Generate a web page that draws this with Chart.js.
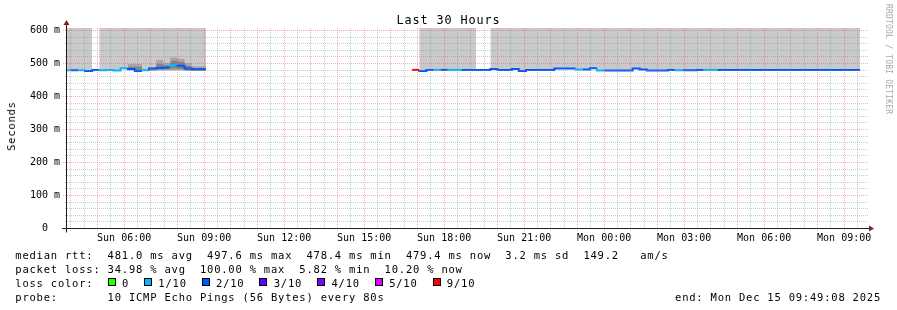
<!DOCTYPE html>
<html><head><meta charset="utf-8">
<script src="https://cdn.jsdelivr.net/npm/chart.js@4.4.1/dist/chart.umd.min.js"></script>
<style>
html,body{margin:0;padding:0;background:#fff;}
#wrap{position:relative;width:897px;height:310px;overflow:hidden;background:#fff;font-family:"DejaVu Sans Mono",monospace;color:#000;}
#c{position:absolute;left:0;top:0;}
.t{position:absolute;white-space:pre;}
.lg{font-size:10.5px;line-height:14px;letter-spacing:0.78px;}
#title{left:0;width:897px;text-align:center;top:11.9px;font-size:11.8px;line-height:16px;letter-spacing:0.88px;}
#ylab{left:11px;top:126px;transform:translate(-50%,-50%) rotate(-90deg);}
#credit{left:882.5px;top:4px;font-size:8px;line-height:10px;letter-spacing:0.2px;writing-mode:vertical-rl;color:#a8a8a8;}
#l1{left:15.3px;top:247.6px;}
#l2{left:15.3px;top:261.6px;}
#l3{left:15.3px;top:275.6px;}
#l4{left:15.3px;top:289.6px;}
#end{right:16px;top:289.6px;}
.sq{display:inline-block;width:8px;height:8px;box-sizing:border-box;border:1px solid #000;vertical-align:0.75px;}
.ll{margin-left:6.3px;margin-right:15px;}
</style></head>
<body>
<div id="wrap">
<canvas id="c" width="897" height="310"></canvas>
<div class="t" id="title">Last 30 Hours</div>
<div class="t lg" id="ylab">Seconds</div>
<div class="t" id="credit">RRDTOOL / TOBI OETIKER</div>
<div class="t lg" id="l1">median rtt:  481.0 ms avg  497.6 ms max  478.4 ms min  479.4 ms now  3.2 ms sd  149.2   am/s</div>
<div class="t lg" id="l2">packet loss: 34.98 % avg  100.00 % max  5.82 % min  10.20 % now</div>
<div class="t lg" id="l3">loss color:  <span id="lossItems"></span></div>
<div class="t lg" id="l4">probe:       10 ICMP Echo Pings (56 Bytes) every 80s</div>
<div class="t lg" id="end">end: Mon Dec 15 09:49:08 2025</div>
</div>
<script>
// ---------------- data ----------------
// time axis: hours since Sun 00:00; graph covers the 30 hours ending Mon 09:49:08
const endHour = 24 + 9 + 49/60 + 8/3600;
const spanHours = 30;
const xTickHours  = [6, 9, 12, 15, 18, 21, 24, 27, 30, 33];
const xTickLabels = ['Sun 06:00','Sun 09:00','Sun 12:00','Sun 15:00','Sun 18:00','Sun 21:00','Mon 00:00','Mon 03:00','Mon 06:00','Mon 09:00'];
const yTickValues = [0, 100, 200, 300, 400, 500, 600];
const yTickLabels = ['0', '100 m', '200 m', '300 m', '400 m', '500 m', '600 m'];
const yMaxMs = 606.06;

// consolidated 16-minute buckets, first one starts Sun 03:44
const firstBucketHour = 3 + 44/60;
const bucketHours = 16/60;

// median rtt per bucket (ms); null = 100% loss
const medianMs = [
  478,478,478,478,476,479,478,479,477,484,482,476,478,483,485,486,494,492,483,481,
  null,null,null,null,null,null,null,null,null,null,null,null,null,null,null,null,null,null,null,null,null,null,null,null,null,null,null,null,null,
  479,479,476,479,479,479,479,479,479,479,479,479,482,479,479,482,476,479,479,479,479,
  483,483,483,480,480,484,477,477,477,477,477,483,480,477,477,477,479,478,478,478,479,479,
  479,479,479,479,479,479,479,479,479,479,479,479,479,479,479,479,479,479,479,479
];
// lost pings out of 10 per bucket
const lossTenths = [
  1,2,1,2,2,1,1,1,1,2,2,1,2,2,2,1,2,2,2,2,
  10,10,10,10,10,10,10,10,10,10,10,10,10,10,10,10,10,10,10,10,10,10,10,10,10,10,10,10,10,
  9,2,2,1,2,1,1,2,2,2,2,2,2,2,2,2,2,2,2,2,2,
  2,2,1,2,2,1,2,2,2,2,2,2,2,2,2,2,1,2,2,2,1,1,
  2,2,2,2,2,2,2,2,2,2,2,2,2,2,2,2,2,2,2,2
];
// 1 = slowest ping of the bucket is above the top of the graph
const upperOffScale = [
  1,1,1,1,0,1,1,1,1,1,1,1,1,1,1,1,1,1,1,1,
  0,0,0,0,0,0,0,0,0,0,0,0,0,0,0,0,0,0,0,0,0,0,0,0,0,0,0,0,0,
  0,1,1,1,1,1,1,1,1,0,0,1,1,1,1,1,1,1,1,1,1,
  1,1,1,1,1,1,1,1,1,1,1,1,1,1,1,1,1,1,1,1,1,1,
  1,1,1,1,1,1,1,1,1,1,1,1,1,1,1,1,1,1,1,1
];
// smoke (spread of the individual pings), first buckets only
const smokeOuterHi = [null,null,null,null,null,null,null,null,null,501,497,null,482,487,509,500,517,512,500,490];
const smokeOuterLo = [null,null,null,null,null,null,null,null,null,476,477,null,476,476,477,477,477,477,476,476];
const smokeInnerHi = [null,null,null,null,null,null,null,null,null,492,489,null,null,485,497,493,507,503,491,485];
const smokeInnerLo = [null,null,null,null,null,null,null,null,null,479,479,null,null,479,480,481,483,482,479,478];

// loss colour legend
const lossLegendTenths = [0, 1, 2, 3, 4, 5, 9];
const lossLegendLabels = ['0', '1/10', '2/10', '3/10', '4/10', '5/10', '9/10'];
const lossLegendColors = ['#26ff00', '#00b8ff', '#0059ff', '#5e00ff', '#7e00ff', '#dd00ff', '#ff0000'];

// ---------------- helpers ----------------
const FONT = 'DejaVu Sans Mono';
const xMax = endHour, xMin = endHour - spanHours;
const bucketStart = k => firstBucketHour + k * bucketHours;
function lossColor(t){
  let c = lossLegendColors[0];
  for (let i = 0; i < lossLegendTenths.length; i++) if (t >= lossLegendTenths[i]) c = lossLegendColors[i];
  return c;
}
function stepPoints(vals){
  const pts = [];
  for (let k = 0; k < vals.length; k++){
    const v = vals[k];
    if (v == null) continue;
    pts.push({x: bucketStart(k), y: v, k});
    if (k === vals.length - 1 || vals[k+1] == null){
      pts.push({x: bucketStart(k+1), y: v, k});
      pts.push({x: bucketStart(k+1), y: null, k});
    }
  }
  return pts;
}
// legend items
const li = document.getElementById('lossItems');
lossLegendLabels.forEach((lab, i) => {
  const s = document.createElement('span'); s.className = 'sq'; s.style.background = lossLegendColors[i];
  const t = document.createElement('span'); t.className = 'll'; t.textContent = lab;
  li.appendChild(s); li.appendChild(t);
});

const medianPts = stepPoints(medianMs);
const lightPts = stepPoints(medianMs.map((v, k) => upperOffScale[k] ? v : null));
const none = 'rgba(0,0,0,0)';
const base = {pointRadius: 0, pointHoverRadius: 0, stepped: 'after', borderColor: none, borderWidth: 0, spanGaps: false};

const datasets = [
  Object.assign({}, base, {label: 'median', data: medianPts, borderWidth: 2, borderColor: '#0059ff', fill: false,
    borderCapStyle: 'butt', borderJoinStyle: 'miter', order: 0,
    segment: {borderColor: c => lossColor(lossTenths[medianPts[c.p0DataIndex].k])}}),
  Object.assign({}, base, {label: 'inner hi', data: stepPoints(smokeInnerHi), fill: '+1', backgroundColor: '#828282', order: 1}),
  Object.assign({}, base, {label: 'inner lo', data: stepPoints(smokeInnerLo), fill: false, order: 2}),
  Object.assign({}, base, {label: 'outer hi', data: stepPoints(smokeOuterHi), fill: '+1', backgroundColor: '#a6a6a6', order: 3}),
  Object.assign({}, base, {label: 'outer lo', data: stepPoints(smokeOuterLo), fill: false, order: 4}),
  Object.assign({}, base, {label: 'smoke', data: lightPts, fill: 'end', backgroundColor: '#c9c9c9', order: 5})
];

const GRID_MINOR = 'rgba(143,143,143,0.45)';
const GRID_MAJOR = 'rgba(222,79,79,0.45)';
const AXIS = 'rgb(31,31,31)';
const ARROW = 'rgb(128,31,31)';

const rrdPlugin = {
  id: 'rrd',
  afterDatasetsDraw(chart){
    const {ctx, chartArea: a, scales: {x, y}} = chart;
    ctx.save();
    ctx.lineWidth = 1;
    ctx.setLineDash([1, 1]);
    for (let h = Math.ceil(x.min * 2) / 2; h <= x.max; h += 0.5){
      const px = Math.floor(x.getPixelForValue(h)) + 0.5;
      const major = Math.abs(h - Math.round(h)) < 1e-6;
      ctx.strokeStyle = major ? GRID_MAJOR : GRID_MINOR;
      ctx.beginPath(); ctx.moveTo(px, a.top); ctx.lineTo(px, major ? a.bottom + 4 : a.bottom); ctx.stroke();
    }
    for (let v = 20; v <= y.max; v += 20){
      const py = Math.round(y.getPixelForValue(v)) + 0.5;
      const major = v % 100 === 0;
      ctx.strokeStyle = major ? GRID_MAJOR : GRID_MINOR;
      ctx.beginPath(); ctx.moveTo(a.left - (major ? 3 : 1), py); ctx.lineTo(a.right + 2, py); ctx.stroke();
    }
    ctx.restore();
    // axes
    ctx.save();
    ctx.strokeStyle = AXIS; ctx.lineWidth = 1;
    const ox = a.left + 0.5, oy = Math.round(y.getPixelForValue(0)) + 0.5;
    ctx.beginPath(); ctx.moveTo(a.left - 4, oy); ctx.lineTo(a.right + 4, oy); ctx.stroke();
    ctx.beginPath(); ctx.moveTo(ox, oy + 4); ctx.lineTo(ox, a.top - 4); ctx.stroke();
    ctx.fillStyle = ARROW;
    ctx.beginPath(); ctx.moveTo(a.right + 8, oy); ctx.lineTo(a.right + 3, oy - 3); ctx.lineTo(a.right + 3, oy + 3); ctx.closePath(); ctx.fill();
    ctx.beginPath(); ctx.moveTo(ox, a.top - 8); ctx.lineTo(ox - 3, a.top - 3); ctx.lineTo(ox + 3, a.top - 3); ctx.closePath(); ctx.fill();
    ctx.restore();
  }
};

new Chart(document.getElementById('c'), {
  type: 'line',
  data: {datasets},
  options: {
    responsive: false, animation: false, devicePixelRatio: 1,
    layout: {padding: {left: 14, right: 31, top: 28, bottom: 62}},
    plugins: {legend: {display: false}, title: {display: false}, tooltip: {enabled: false}},
    events: [],
    scales: {
      x: {
        type: 'linear', min: xMin, max: xMax,
        grid: {display: false, drawTicks: false}, border: {display: false},
        afterBuildTicks: s => { s.ticks = xTickHours.map(v => ({value: v})); },
        afterFit: s => { s.height = 20; },
        ticks: {autoSkip: false, maxRotation: 0, minRotation: 0, padding: 4, color: '#000',
          font: {family: FONT, size: 10},
          callback: v => { const i = xTickHours.indexOf(v); return i >= 0 ? xTickLabels[i] : ''; }}
      },
      y: {
        type: 'linear', min: 0, max: yMaxMs,
        grid: {display: false, drawTicks: false}, border: {display: false},
        afterBuildTicks: s => { s.ticks = yTickValues.map(v => ({value: v})); },
        afterFit: s => { s.width = 52; },
        ticks: {autoSkip: false, padding: 6, color: '#000',
          font: {family: FONT, size: 10},
          callback: v => { const i = yTickValues.indexOf(v); if (i < 0) return ''; const l = yTickLabels[i]; return l.indexOf(' ') >= 0 ? l : l + '  '; }}
      }
    }
  },
  plugins: [rrdPlugin]
});
</script>
</body></html>
